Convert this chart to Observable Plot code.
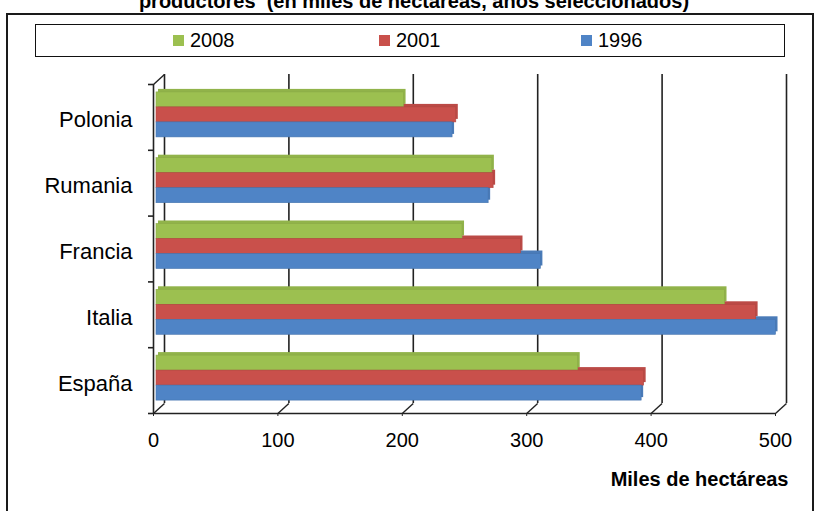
<!DOCTYPE html>
<html>
<head>
<meta charset="utf-8">
<script src="https://cdn.jsdelivr.net/npm/d3@7"></script>
<script src="https://cdn.jsdelivr.net/npm/@observablehq/plot@0.6"></script>
<style>
  html, body { margin: 0; padding: 0; background: #fff; overflow: hidden; }
  #wrap { position: relative; width: 821px; height: 511px; overflow: hidden; font-family: "Liberation Sans", Arial, sans-serif; color: #000; }
  #title { position: absolute; left: 0; width: 828px; top: -10px; text-align: center; font-weight: bold; font-size: 20px; white-space: pre; }
  #frame { position: absolute; left: 6px; top: 13px; width: 804px; height: 520px; border: 2px solid #1a1a1a; }
  #legend { position: absolute; left: 35px; top: 24px; width: 748px; height: 31px; border: 1.5px solid #111; }
  .item { position: absolute; top: 0; height: 31px; line-height: 31px; font-size: 20px; }
  .sw { position: absolute; top: 10px; width: 11px; height: 11px; }
  #chart { position: absolute; left: 0; top: 0; }
  #chart svg { overflow: visible; }
</style>
</head>
<body>
<div id="wrap">
  <div id="title">productores  (en miles de hectáreas, años seleccionados)</div>
  <div id="frame"></div>
  <div id="legend"></div>
  <div id="chart"></div>
</div>
<script>
// Superficie por país (miles de hectáreas) en tres años
const categories = ["Polonia", "Rumania", "Francia", "Italia", "España"];
const years = ["2008", "2001", "1996"];
const v2008 = [199, 270, 246, 457, 339];
const v2001 = [241, 271, 293, 482, 392];
const v1996 = [238, 267, 309, 498, 390];
const xTicks = [0, 100, 200, 300, 400, 500];
const colors = ["#9cc050", "#c9504b", "#4f84c6"];

const series = [v2008, v2001, v1996];
const rows = [];
categories.forEach((c, i) => {
  years.forEach((y, j) => rows.push({category: c, year: y, value: series[j][i], i, j}));
});

// geometry of each bar inside its category band
const padTop = 0.12, barH = 0.228;
const y1 = d => d.i + padTop + d.j * barH;
const y2 = d => d.i + padTop + (d.j + 1) * barH;

// depth of the 3‑D box in data units
const depthX = 8.8, depthY = 0.152;

const colorOf = Object.fromEntries(years.map((y, j) => [y, colors[j]]));
const sideOf = Object.fromEntries(years.map((y, j) => [y, d3.color(colors[j]).darker(0.2).formatHex()]));
const edgeOf = Object.fromEntries(years.map((y, j) => [y, d3.color(colors[j]).darker(0.35).formatHex()]));

const lineColor = "#222";

const plot = Plot.plot({
  width: 821,
  height: 511,
  marginLeft: 153,
  marginRight: 46,
  marginTop: 84,
  marginBottom: 98,
  style: {background: "transparent", color: "#000", fontFamily: "'Liberation Sans', Arial, sans-serif"},
  x: {domain: [0, 500]},
  y: {domain: [0, 5], reverse: true},
  marks: [
    // back wall gridlines
    Plot.ruleX(xTicks, {x: d => d, y1: 0, y2: 5, dx: 11, dy: -10, stroke: lineColor, strokeWidth: 1.6}),
    // floor: diagonals from front ticks to back wall
    Plot.link(xTicks, {x1: d => d, y1: 5, x2: d => d + depthX, y2: 5 - depthY, stroke: lineColor, strokeWidth: 1.4}),
    // top-left diagonal of the side wall
    Plot.link([0], {x1: 0, y1: 0, x2: depthX, y2: -depthY, stroke: lineColor, strokeWidth: 1.4}),
    // front axes
    Plot.ruleY([5], {x1: 0, x2: 500, stroke: lineColor, strokeWidth: 1.6}),
    Plot.ruleX([0], {y1: 0, y2: 5, stroke: lineColor, strokeWidth: 1.6}),
    // bar depth faces
    Plot.rect(rows, {x1: 0, x2: "value", y1, y2, fill: d => sideOf[d.year], dx: 5, dy: -3}),
    // bar front faces
    Plot.rect(rows, {x1: 0, x2: "value", y1, y2, fill: d => colorOf[d.year], stroke: d => edgeOf[d.year], strokeWidth: 0.6, dx: 3}),
    // axes
    Plot.axisX(xTicks, {tickSize: 3, tickPadding: 16, fontSize: 20, label: null, stroke: lineColor}),
    Plot.axisY(d3.range(0, 6), {tickSize: 5, tickFormat: () => "", label: null, stroke: lineColor, strokeWidth: 1.6}),
    Plot.axisY(categories.map((c, i) => i + 0.5), {tickSize: 0, tickPadding: 21, dy: 3, fontSize: 22, label: null,
      tickFormat: d => categories[Math.floor(d)]}),
    // axis title
    Plot.text(["Miles de hectáreas"], {frameAnchor: "bottom-right", dx: 13, dy: 72, fontSize: 20, fontWeight: "bold", textAnchor: "end"})
  ]
});
document.getElementById("chart").appendChild(plot);

// legend
const legend = document.getElementById("legend");
const itemLeft = [137, 343, 545];
years.forEach((y, j) => {
  const it = document.createElement("div");
  it.className = "item";
  it.style.left = itemLeft[j] + "px";
  it.innerHTML = `<span class="sw" style="left:0;background:${colors[j]}"></span><span style="margin-left:17px">${y}</span>`;
  legend.appendChild(it);
});
</script>
</body>
</html>
